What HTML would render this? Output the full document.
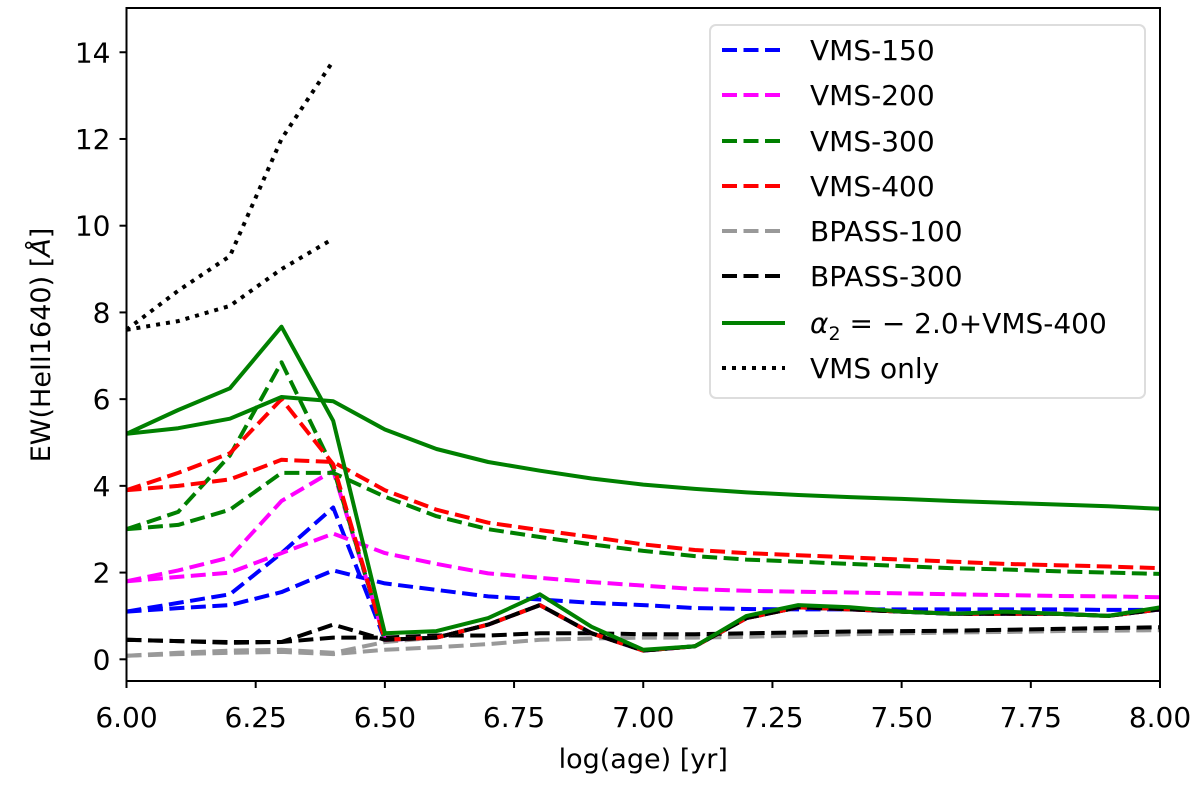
<!DOCTYPE html>
<html><head><meta charset="utf-8"><style>
body{margin:0;background:#fff;}
svg text{font-family:"DejaVu Sans","Liberation Sans",sans-serif;fill:#000;}
</style></head><body>
<svg id="chart" width="1200" height="789" viewBox="0 0 1200 789" xmlns="http://www.w3.org/2000/svg">
<g id="plot"></g>
<g id="axes"></g>
<g id="legend"></g>
</svg>
<script>
const ages = [6.0,6.1,6.2,6.3,6.4,6.5,6.6,6.7,6.8,6.9,7.0,7.1,7.2,7.3,7.4,7.5,7.6,7.7,7.8,7.9,8.0];
const bumpTail = [0.45,0.5,0.8,1.25,0.6,0.2,0.3,0.95,1.2,1.15,1.1,1.05,1.05,1.05,1.0,1.15];
const vms150A = [1.1,1.3,1.5,2.45,3.5].concat(bumpTail);
const vms150B = [1.1,1.18,1.25,1.55,2.05,1.75,1.6,1.45,1.38,1.3,1.25,1.18,1.16,1.15,1.15,1.15,1.15,1.15,1.15,1.14,1.14];
const vms200A = [1.8,2.05,2.35,3.65,4.35].concat(bumpTail);
const vms200B = [1.8,1.9,2.0,2.45,2.9,2.45,2.2,1.98,1.88,1.78,1.7,1.62,1.58,1.56,1.54,1.52,1.5,1.48,1.46,1.45,1.43];
const vms300A = [3.0,3.4,4.7,6.85,4.4].concat(bumpTail);
const vms300B = [3.0,3.1,3.45,4.3,4.3,3.75,3.3,3.0,2.82,2.65,2.5,2.38,2.3,2.25,2.2,2.15,2.1,2.07,2.03,2.0,1.97];
const vms400A = [3.9,4.3,4.75,6.0,4.5].concat(bumpTail);
const vms400B = [3.9,4.0,4.15,4.6,4.55,3.9,3.45,3.15,2.98,2.82,2.65,2.52,2.45,2.4,2.35,2.3,2.25,2.2,2.17,2.14,2.1];
const bp100A = [0.08,0.15,0.2,0.22,0.15,0.4].concat(bumpTail.slice(1));
const bp100B = [0.08,0.12,0.15,0.17,0.12,0.22,0.28,0.35,0.45,0.48,0.5,0.5,0.52,0.55,0.58,0.6,0.62,0.63,0.65,0.66,0.67];
const bp300A = [0.45,0.42,0.38,0.4,0.8].concat(bumpTail);
const bp300B = [0.45,0.42,0.4,0.4,0.5,0.5,0.55,0.55,0.6,0.6,0.58,0.58,0.6,0.62,0.64,0.65,0.66,0.68,0.7,0.72,0.74];
const alphaA = [5.2,5.75,6.25,7.67,5.5,0.6,0.65,0.95,1.5,0.75,0.22,0.3,1.0,1.25,1.2,1.1,1.05,1.1,1.05,1.0,1.2];
const alphaB = [5.2,5.33,5.55,6.05,5.95,5.3,4.85,4.55,4.35,4.17,4.03,3.93,3.85,3.79,3.74,3.7,3.65,3.61,3.57,3.53,3.47];
const vmsOnlyA = [7.6,8.5,9.3,12.0,13.8];
const vmsOnlyB = [7.6,7.8,8.15,9.0,9.7];
const xTicks = [6.0,6.25,6.5,6.75,7.0,7.25,7.5,7.75,8.0];
const xTickLabels = ["6.00","6.25","6.50","6.75","7.00","7.25","7.50","7.75","8.00"];
const yTicks = [0,2,4,6,8,10,12,14];
const legendLabels = ["VMS-150","VMS-200","VMS-300","VMS-400","BPASS-100","BPASS-300","α2","VMS only"];

const L=126.5,R=1160,T=8,B=681;
const X=v=>L+(v-6)/2*(R-L);
const Y=v=>659.3-v*43.36;
const NS="http://www.w3.org/2000/svg";
function mk(tag,attrs,parent){const e=document.createElementNS(NS,tag);for(const k in attrs)e.setAttribute(k,attrs[k]);parent.appendChild(e);return e;}
const plot=document.getElementById('plot'),axes=document.getElementById('axes'),leg=document.getElementById('legend');
const DASH="15 6.5",DOT="4 6";
const series=[
 [bp100B,"#999",DASH,"bpass100-smooth"],[bp100A,"#999",DASH,"bpass100-peaked"],
 [bp300B,"#000",DASH,"bpass300-smooth"],
 [vms150B,"#0000ff",DASH,"vms150-smooth"],[vms150A,"#0000ff",DASH,"vms150-peaked"],
 [vms200B,"#ff00ff",DASH,"vms200-smooth"],[vms200A,"#ff00ff",DASH,"vms200-peaked"],
 [vms300B,"#008000",DASH,"vms300-smooth"],[vms300A,"#008000",DASH,"vms300-peaked"],
 [vms400B,"#ff0000",DASH,"vms400-smooth"],[vms400A,"#ff0000",DASH,"vms400-peaked"],
 [bp300A,"#000",DASH,"bpass300-peaked"],
 [alphaB,"#008000",null,"alpha-vms400-smooth"],[alphaA,"#008000",null,"alpha-vms400-peaked"],
 [vmsOnlyA,"#000",DOT,"vms-only-upper"],[vmsOnlyB,"#000",DOT,"vms-only-lower"]];
for(const [d,c,da,n] of series){
 const pts=d.map((v,i)=>X(ages[i]).toFixed(1)+","+Y(v).toFixed(1)).join(" ");
 const a={points:pts,fill:"none",stroke:c,"stroke-width":4,"stroke-linejoin":"round"};
 if(da)a["stroke-dasharray"]=da;
 const e=mk("polyline",a,plot);
 
 
}
const fr=mk("rect",{x:L,y:T,width:R-L,height:B-T,fill:"none",stroke:"#000","stroke-width":2},axes);


xTicks.forEach((v,i)=>{
 mk("line",{x1:X(v),x2:X(v),y1:B,y2:B+7,stroke:"#000","stroke-width":2},axes);
 const t=mk("text",{x:X(v),y:B+46,"text-anchor":"middle","font-size":28},axes);
 t.textContent=xTickLabels[i];
 
 
});
yTicks.forEach(v=>{
 mk("line",{x1:L-7,x2:L,y1:Y(v),y2:Y(v),stroke:"#000","stroke-width":2},axes);
 const t=mk("text",{x:L-16,y:Y(v)+10,"text-anchor":"end","font-size":28},axes);
 t.textContent=String(v);
 
 
});
const xt=mk("text",{x:(L+R)/2,y:768,"text-anchor":"middle","font-size":27},axes);
xt.textContent="log(age) [yr]";


const yt=mk("text",{x:0,y:0,"text-anchor":"middle","font-size":27,transform:"translate(50,345) rotate(-90)"},axes);
yt.innerHTML='EW(HeII1640) [<tspan font-style="italic">Å</tspan>]';


// legend
const box=mk("rect",{x:710,y:25,width:435,height:373,rx:6,fill:"#fff","fill-opacity":0.85,stroke:"#ddd","stroke-width":2},leg);


const legStyles=[["#0000ff",DASH],["#ff00ff",DASH],["#008000",DASH],["#ff0000",DASH],["#999",DASH],["#000",DASH],["#008000",null],["#000",DOT]];
const legY=[50,95,141,186,231,276,323,368];
legStyles.forEach((s,i)=>{
 const g=mk("g",{},leg);
 
 
 const a={x1:722,x2:785,y1:legY[i],y2:legY[i],stroke:s[0],"stroke-width":4};
 if(s[1])a["stroke-dasharray"]=s[1];
 mk("line",a,g);
 const t=mk("text",{x:810,y:legY[i]+10,"font-size":28},g);
 if(i===6){
  t.innerHTML='<tspan font-style="italic">α</tspan><tspan font-size="19" dy="7">2</tspan><tspan dy="-7"> = − 2.0+VMS-400</tspan>';
 } else t.textContent=legendLabels[i];
});
</script>
</body></html>
